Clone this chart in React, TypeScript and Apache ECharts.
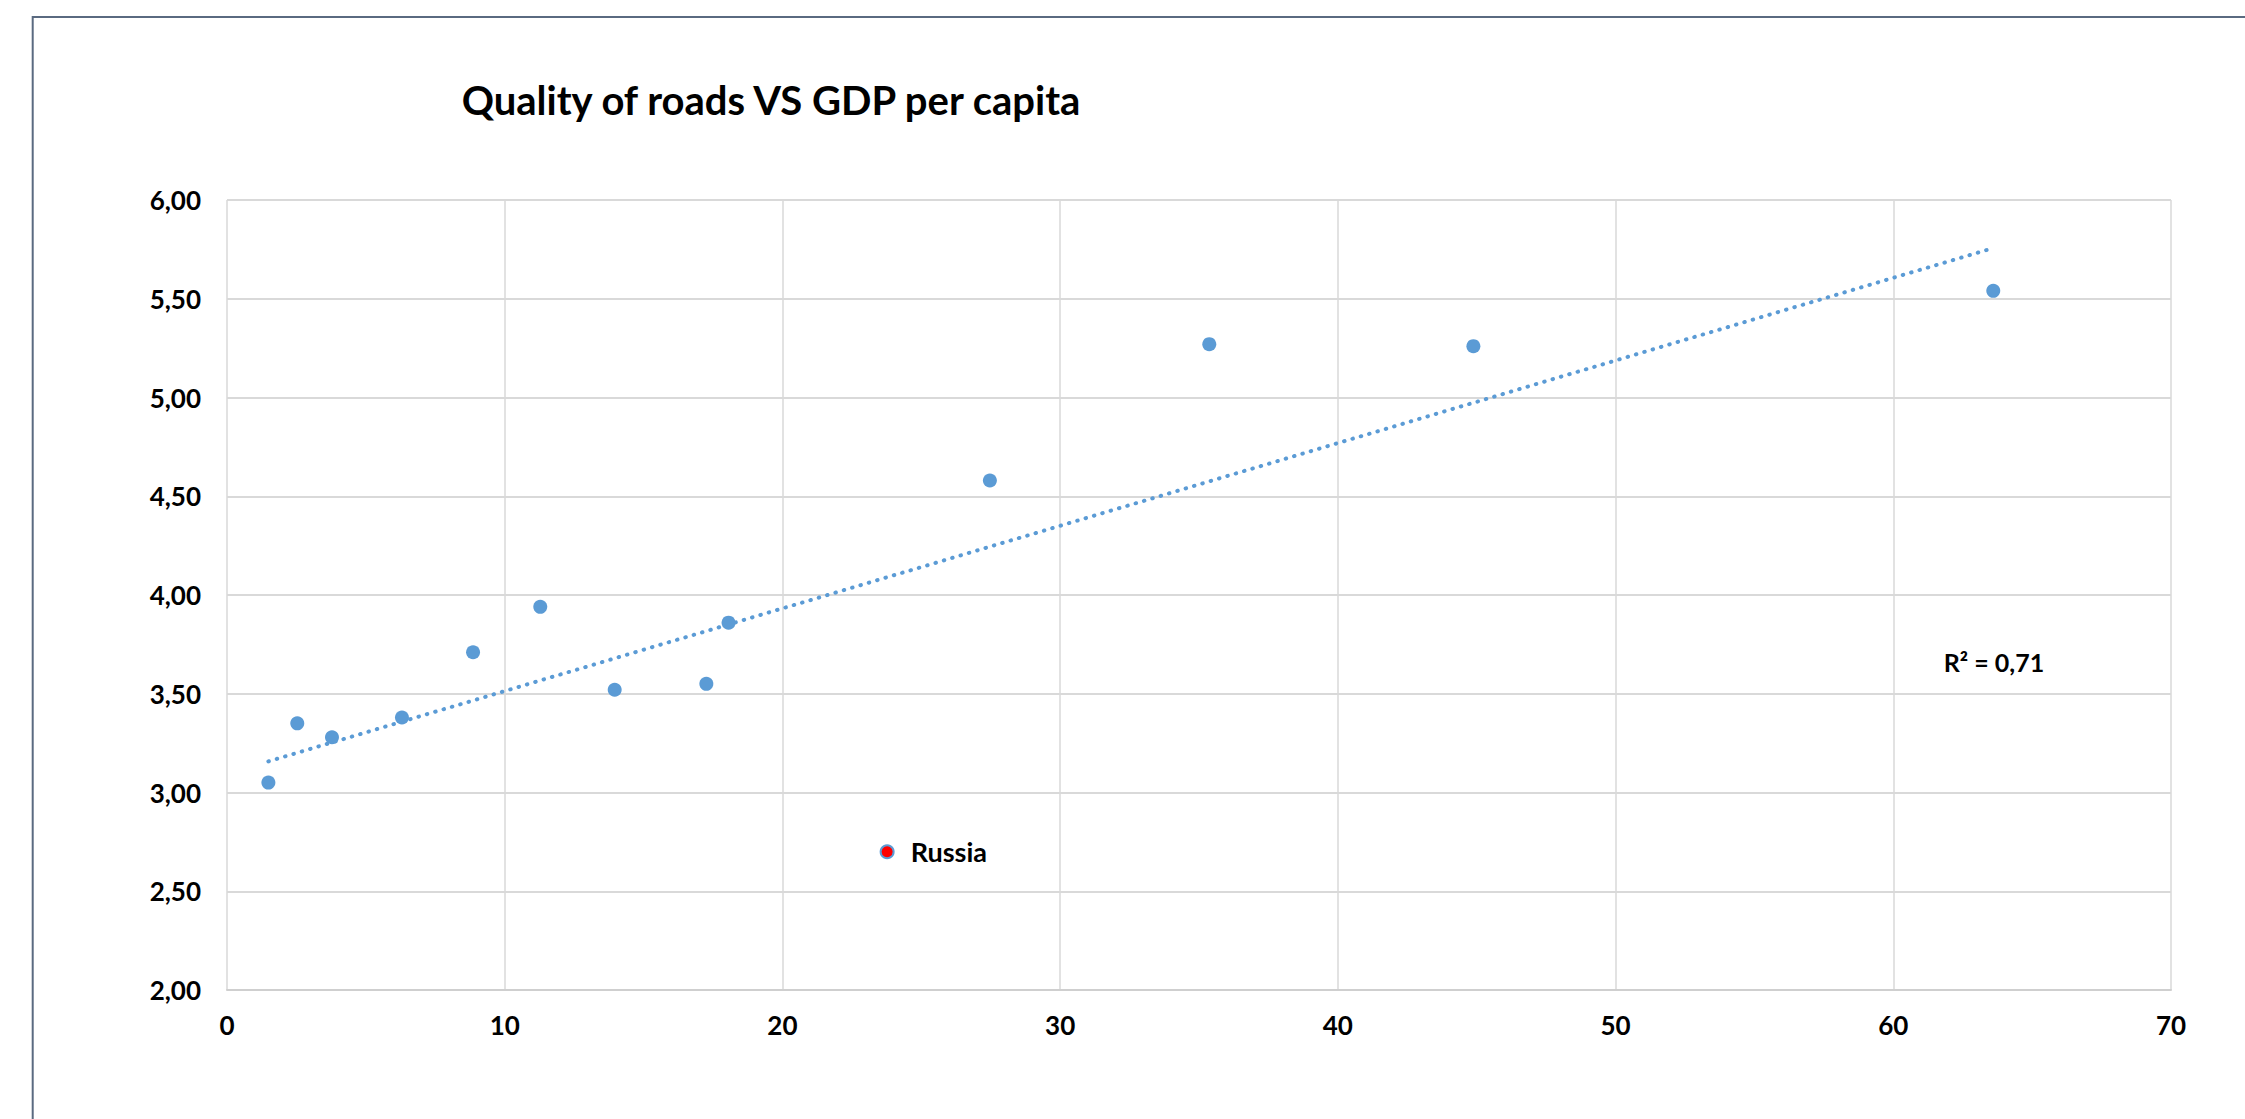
import React, { useEffect, useRef } from "react";
import * as echarts from "echarts";

const TITLE = "Quality of roads VS GDP per capita";
const gdpPerCapita = [1.49, 2.53, 3.78, 6.3, 8.86, 11.28, 13.96, 17.26, 18.06, 27.47, 35.37, 44.88, 63.6];
const roadQuality = [3.05, 3.35, 3.28, 3.38, 3.71, 3.94, 3.52, 3.55, 3.86, 4.58, 5.27, 5.26, 5.54];
const russiaPoint = [23.77, 2.7];
const russiaLabel = "Russia";
const r2Label = "R² = 0,71";
const xTicks = { min: 0, max: 70, interval: 10 };
const yTicks = { min: 2, max: 6, interval: 0.5 };

function linearFit(xs: number[], ys: number[]) {
  const n = xs.length;
  const mx = xs.reduce((a, b) => a + b, 0) / n;
  const my = ys.reduce((a, b) => a + b, 0) / n;
  let sxy = 0;
  let sxx = 0;
  for (let i = 0; i < n; i++) {
    sxy += (xs[i] - mx) * (ys[i] - my);
    sxx += (xs[i] - mx) * (xs[i] - mx);
  }
  const slope = sxy / sxx;
  return { slope, intercept: my - slope * mx };
}

export default function App() {
  const ref = useRef<HTMLDivElement>(null);
  useEffect(() => {
    if (!ref.current) return;
    const chart = echarts.init(ref.current, undefined, { renderer: "svg" });
    const allX = [...gdpPerCapita, russiaPoint[0]];
    const allY = [...roadQuality, russiaPoint[1]];
    const fit = linearFit(allX, allY);
    const x0 = Math.min(...allX);
    const x1 = Math.max(...allX);
    const trend = [
      [x0, fit.intercept + fit.slope * x0],
      [x1, fit.intercept + fit.slope * x1],
    ];
    const font = "Lato, 'Open Sans', sans-serif";
    const blue = "#5B9BD5";
    chart.setOption({
      animation: false,
      backgroundColor: "#ffffff",
      grid: { left: 227, top: 200, width: 1944, height: 790, containLabel: false },
      graphic: [
        {
          type: "rect",
          shape: { x: 32.7, y: 17, width: 2400, height: 1300 },
          style: { fill: "none", stroke: "#5a6a80", lineWidth: 2 },
          silent: true,
        },
        {
          type: "text",
          x: 771,
          y: 100,
          style: {
            text: TITLE,
            fontFamily: font,
            fontWeight: "bold",
            fontSize: 40,
            fill: "#000000",
            textAlign: "center",
            textVerticalAlign: "middle",
          },
        },
        {
          type: "text",
          x: 1994,
          y: 662,
          style: {
            text: r2Label,
            fontFamily: font,
            fontWeight: "bold",
            fontSize: 25,
            fill: "#000000",
            textAlign: "center",
            textVerticalAlign: "middle",
          },
        },
      ],
      xAxis: {
        type: "value",
        min: xTicks.min,
        max: xTicks.max,
        interval: xTicks.interval,
        axisLine: { show: true, onZero: false, lineStyle: { color: "#cfcfcf", width: 2 } },
        axisTick: { show: false },
        splitLine: { show: true, lineStyle: { color: "#d9d9d9", width: 1.5 } },
        axisLabel: {
          margin: 22,
          fontFamily: font,
          fontWeight: "bold",
          fontSize: 26,
          color: "#000000",
        },
      },
      yAxis: {
        type: "value",
        min: yTicks.min,
        max: yTicks.max,
        interval: yTicks.interval,
        axisLine: { show: false },
        axisTick: { show: false },
        splitLine: { show: true, lineStyle: { color: "#d9d9d9", width: 2 } },
        axisLabel: {
          margin: 26,
          fontFamily: font,
          fontWeight: "bold",
          fontSize: 26,
          color: "#000000",
          formatter: (v: number) => v.toFixed(2).replace(".", ","),
        },
      },
      series: [
        {
          type: "line",
          data: trend,
          showSymbol: false,
          symbol: "none",
          lineStyle: { color: blue, width: 4, type: [0.5, 8.2], cap: "round" },
          z: 2,
          silent: true,
        },
        {
          type: "scatter",
          data: gdpPerCapita.map((x, i) => [x, roadQuality[i]]),
          symbolSize: 14,
          itemStyle: { color: blue, opacity: 1 },
          z: 3,
        },
        {
          type: "scatter",
          data: [russiaPoint],
          symbolSize: 13,
          itemStyle: { color: "#ff0000", borderColor: blue, borderWidth: 2, opacity: 1 },
          label: {
            show: true,
            position: "right",
            distance: 16,
            formatter: () => russiaLabel,
            fontFamily: font,
            fontWeight: "bold",
            fontSize: 27,
            color: "#000000",
          },
          z: 4,
        },
      ],
    });
    return () => chart.dispose();
  }, []);
  return (
    <div
      ref={ref}
      style={{ position: "fixed", left: 0, top: 0, width: 2245, height: 1119, background: "#fff" }}
    />
  );
}
